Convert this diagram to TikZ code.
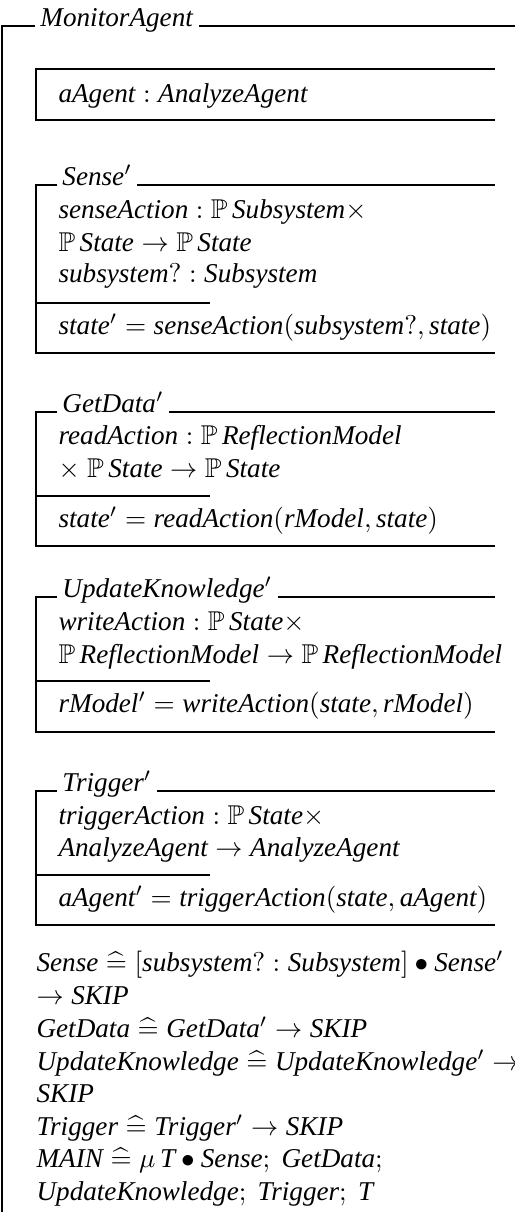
\documentclass[tikz,border=0pt]{standalone}
\usepackage{amssymb}
\usepackage{fontspec}
\setmainfont{Liberation Serif}
\usetikzlibrary{positioning}

\newcommand{\zid}[1]{\textit{#1}}
\newcommand{\zpow}{\mathbb{P}\,}
\newcommand{\zdef}{\mathrel{\widehat{=}}}
\newcommand{\zpr}{{}^{\prime}}

\begin{document}
\begin{tikzpicture}[x=0.368pt, y=-0.368pt]

\tikzset{
  zrule/.style={line width=0.5pt},
  zhead/.style={anchor=base west, inner xsep=1.8pt, inner ysep=0pt, font=\normalsize},
  zline/.style={anchor=base west, inner sep=0pt, font=\normalsize}
}

\useasboundingbox (0,0) rectangle (515,1212);

% ==========================
% Outer schema
% ==========================
\node[zhead] (monitor) at (35,26) {\zid{MonitorAgent}};
\coordinate (outerSW) at (2,1212);
\coordinate (outerNW) at (2,26);
\coordinate (outerNE) at (515,26);
\draw[zrule] (outerSW) -- (outerNW) -- (monitor.base west);
\draw[zrule] (monitor.base east) -- (outerNE);

% state box
\node[zline] (agent) at (58,102) {$\zid{aAgent} : \zid{AnalyzeAgent}$};
\draw[zrule] (495,69) -- (36,69) -- (36,120) -- (495,120);

% ==========================
% Sense'
% ==========================
\node[zhead] (sense) at (57,185) {$\zid{Sense}\zpr$};
\draw[zrule] (sense.base east) -- (495,185);
\draw[zrule] (sense.base west) -- (36,185) -- (36,353) -- (495,353);
\draw[zrule] (36,303) -- (210,303);
\node[zline] (senseA) at (58,218) {$\zid{senseAction} : \zpow\zid{Subsystem}\times$};
\node[zline] (senseB) at (58,251) {$\zpow\zid{State} \rightarrow \zpow\zid{State}$};
\node[zline] (senseC) at (58,282) {$\zid{subsystem}? : \zid{Subsystem}$};
\node[zline] (senseP) at (58,334) {$\zid{state}\zpr = \zid{senseAction}(\zid{subsystem}?, \zid{state})$};

% ==========================
% GetData'
% ==========================
\node[zhead] (getdata) at (57,412) {$\zid{GetData}\zpr$};
\draw[zrule] (getdata.base east) -- (495,412);
\draw[zrule] (getdata.base west) -- (36,412) -- (36,546) -- (495,546);
\draw[zrule] (36,496) -- (210,496);
\node[zline] (getA) at (58,444) {$\zid{readAction} : \zpow\zid{ReflectionModel}$};
\node[zline] (getB) at (58,477) {$\times\;\zpow\zid{State} \rightarrow \zpow\zid{State}$};
\node[zline] (getP) at (58,527) {$\zid{state}\zpr = \zid{readAction}(\zid{rModel}, \zid{state})$};

% ==========================
% UpdateKnowledge'
% ==========================
\node[zhead] (update) at (57,597) {$\zid{UpdateKnowledge}\zpr$};
\draw[zrule] (update.base east) -- (495,597);
\draw[zrule] (update.base west) -- (36,597) -- (36,732) -- (495,732);
\draw[zrule] (36,681) -- (210,681);
\node[zline] (updA) at (58,630) {$\zid{writeAction} : \zpow\zid{State}\times$};
\node[zline] (updB) at (58,663) {$\zpow\zid{ReflectionModel} \rightarrow \zpow\zid{ReflectionModel}$};
\node[zline] (updP) at (58,712) {$\zid{rModel}\zpr = \zid{writeAction}(\zid{state}, \zid{rModel})$};

% ==========================
% Trigger'
% ==========================
\node[zhead] (trigger) at (57,791) {$\zid{Trigger}\zpr$};
\draw[zrule] (trigger.base east) -- (495,791);
\draw[zrule] (trigger.base west) -- (36,791) -- (36,925) -- (495,925);
\draw[zrule] (36,875) -- (210,875);
\node[zline] (trgA) at (58,824) {$\zid{triggerAction} : \zpow\zid{State}\times$};
\node[zline] (trgB) at (58,856) {$\zid{AnalyzeAgent} \rightarrow \zid{AnalyzeAgent}$};
\node[zline] (trgP) at (58,906) {$\zid{aAgent}\zpr = \zid{triggerAction}(\zid{state}, \zid{aAgent})$};

% ==========================
% Process definitions
% ==========================
\node[zline] (defA) at (36,971) {$\zid{Sense} \zdef [\zid{subsystem}? : \zid{Subsystem}] \bullet \zid{Sense}\zpr$};
\node[zline] (defB) at (36,1004) {$\rightarrow \zid{SKIP}$};
\node[zline] (defC) at (36,1037) {$\zid{GetData} \zdef \zid{GetData}\zpr \rightarrow \zid{SKIP}$};
\node[zline] (defD) at (36,1070) {$\zid{UpdateKnowledge} \zdef \zid{UpdateKnowledge}\zpr \rightarrow$};
\node[zline] (defE) at (36,1102) {$\zid{SKIP}$};
\node[zline] (defF) at (36,1135) {$\zid{Trigger} \zdef \zid{Trigger}\zpr \rightarrow \zid{SKIP}$};
\node[zline] (defG) at (36,1167) {$\zid{MAIN} \zdef \mu\,\zid{T} \bullet \zid{Sense};\ \zid{GetData};$};
\node[zline] (defH) at (36,1200) {$\zid{UpdateKnowledge};\ \zid{Trigger};\ \zid{T}$};

\end{tikzpicture}
\end{document}
